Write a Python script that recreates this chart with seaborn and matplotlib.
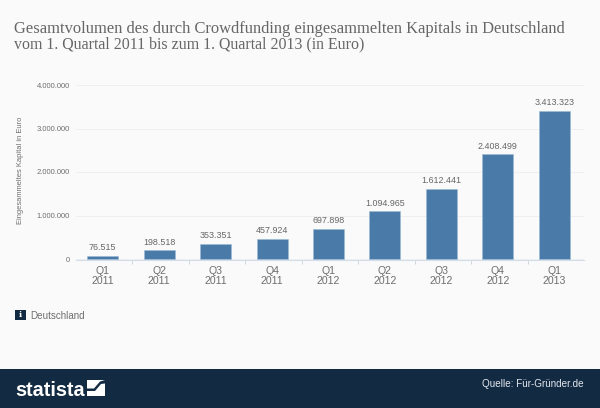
import matplotlib
matplotlib.use("Agg")
import matplotlib.pyplot as plt
from matplotlib.patches import Rectangle, Polygon
import seaborn as sns
import pandas as pd

quarters = ["Q1\n2011", "Q2\n2011", "Q3\n2011", "Q4\n2011", "Q1\n2012", "Q2\n2012", "Q3\n2012", "Q4\n2012", "Q1\n2013"]
values = [76515, 198518, 353351, 457924, 697898, 1094965, 1612441, 2408499, 3413323]
yticks = [0, 1000000, 2000000, 3000000, 4000000]
title_lines = ["Gesamtvolumen des durch Crowdfunding eingesammelten Kapitals in Deutschland",
               "vom 1. Quartal 2011 bis zum 1. Quartal 2013 (in Euro)"]

W, H = 600, 408
BG = "#fafafa"
DARK = "#132a43"
GREY = "#6e6e6e"

sns.set_theme(style="white")
plt.rcParams["font.family"] = ["Liberation Sans", "DejaVu Sans"]

def de(n):
    return f"{n:,}".replace(",", ".")

fig = plt.figure(figsize=(W / 100, H / 100), dpi=100, facecolor=BG)
ax = fig.add_axes([76 / W, 1 - 260 / H, (584 - 76) / W, (260 - 80) / H], facecolor=BG)
df = pd.DataFrame({"q": [f"{i}" for i in range(len(values))], "v": values})
sns.barplot(data=df, x="q", y="v", color="#4a7aa8", saturation=1, width=0.55,
            edgecolor="#9dbbd6", linewidth=0.4, ax=ax)

px = 4000000 / 174.0
off = 0.027
ax.set_xlim(-0.5 + off, len(values) - 0.5 + off)
ax.set_ylim(-1.0 * px, 4000000 + 5 * px)
ax.set_xticks(range(len(values)))
ax.set_xticklabels(quarters, fontsize=7.6, color=GREY, linespacing=1.05)
ax.set_xticks([i + 0.5 + off for i in range(0, len(values) - 1)], minor=True)
ax.tick_params(axis="x", which="major", length=0, pad=4)
ax.tick_params(axis="x", which="minor", length=3, width=0.6, color="#c8d2dc", direction="out", bottom=True)
ax.set_yticks(yticks)
ax.set_yticklabels([de(v) for v in yticks], fontsize=5.5, color=GREY)
ax.tick_params(axis="y", length=0, pad=4.2)
ax.set_xlabel("")
ax.set_ylabel("Eingesammeltes Kapital in Euro", fontsize=5.4, color=GREY)
ax.yaxis.set_label_coords((24 - 76) / (584 - 76), (260 - 170) / 180)
ax.grid(axis="y", color="#efefef", linewidth=0.7)
ax.set_axisbelow(True)
for s in ["top", "left", "right"]:
    ax.spines[s].set_visible(False)
ax.spines["bottom"].set_color("#d3deea")
ax.spines["bottom"].set_linewidth(0.8)

for i, v in enumerate(values):
    ax.annotate(de(v), (i, v), xytext=(0, 2.6), textcoords="offset points", ha="center", va="bottom",
                fontsize=6.4, color="#666666")

def fx(x):
    return x / W
def fy(y):
    return 1 - y / H

fig.text(fx(14.5), fy(33), title_lines[0], family="Liberation Serif", fontsize=11.9, color="#666666", va="baseline")
fig.text(fx(14.5), fy(48.7), title_lines[1], family="Liberation Serif", fontsize=11.45, color="#666666", va="baseline")

# info badge and legend text
fig.add_artist(Rectangle((fx(15), fy(320)), 11 / W, 10 / H, transform=fig.transFigure, fc=DARK, ec="none"))
fig.text(fx(20.5), fy(315), "i", fontsize=6, color="white", ha="center", va="center", weight="bold", family="DejaVu Serif")
fig.text(fx(30), fy(316), "Deutschland", fontsize=7.1, color=GREY, va="center")

# footer
fig.add_artist(Rectangle((0, 0), 1, 39 / H, transform=fig.transFigure, fc=DARK, ec="none"))
fig.text(fx(15), fy(396), "statista", fontsize=14.2, color="white", weight="bold", va="baseline", family="Liberation Sans")
fig.add_artist(Rectangle((fx(87), fy(396)), 18 / W, 16 / H, transform=fig.transFigure, fc="white", ec="none"))
fig.add_artist(Polygon([(fx(87), fy(388.5)), (fx(94), fy(388.5)), (fx(100), fy(381.5)), (fx(105), fy(380)),
                        (fx(105), fy(383.5)), (fx(101), fy(384)), (fx(95), fy(391)), (fx(87), fy(391))],
                       transform=fig.transFigure, fc=DARK, ec="none"))
fig.text(fx(584), fy(383.7), "Quelle: Für-Gründer.de", fontsize=7.1, color="#e4e9ee", ha="right", va="center")

fig.savefig("out.png", dpi=100, facecolor=BG)
